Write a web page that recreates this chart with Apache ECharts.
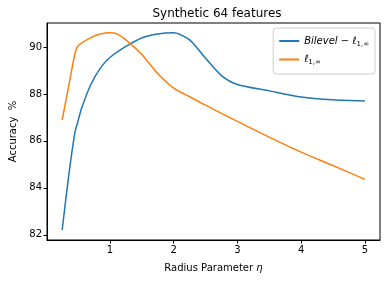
<!DOCTYPE html>
<html><head><meta charset="utf-8">
<script src="https://cdn.jsdelivr.net/npm/echarts@6/dist/echarts.min.js"></script>
<style>html,body{margin:0;padding:0;background:#fff}#c{width:386px;height:282px}</style>
</head><body><div id="c"></div>
<script>
const etaBilevel = [0.25, 0.35, 0.45, 0.5, 0.55, 0.7, 0.85, 1, 1.25, 1.5, 1.75, 2, 2.25, 2.5, 2.75, 3, 3.5, 4, 4.5, 5];
const bilevel    = [82.2, 84.45, 86.35, 86.85, 87.35, 88.4, 89.1, 89.55, 90.02, 90.38, 90.55, 90.6, 90.3, 89.52, 88.78, 88.4, 88.13, 87.87, 87.75, 87.7];
const etaL1inf   = [0.25, 0.35, 0.45, 0.5, 0.7, 0.85, 1, 1.1, 1.25, 1.5, 1.75, 2, 2.25, 2.5, 3, 3.5, 4, 4.5, 5];
const l1inf      = [86.89, 88.3, 89.7, 90.05, 90.4, 90.55, 90.6, 90.57, 90.3, 89.68, 88.87, 88.25, 87.88, 87.52, 86.83, 86.16, 85.52, 84.95, 84.36];
const xTicks = [1, 2, 3, 4, 5];
const yTicks = [82, 84, 86, 88, 90];
const seriesNames = ['Bilevel', 'l1inf'];

const font = 'DejaVu Sans';
const chart = echarts.init(document.getElementById('c'), null, {renderer: 'canvas'});
const pair = (xs, ys) => xs.map((x, i) => [x, ys[i]]);
chart.setOption({
  animation: false,
  backgroundColor: '#fff',
  title: {text: 'Synthetic 64 features', left: 212, top: 3, textAlign: 'center',
    textStyle: {fontFamily: font, fontSize: 12, fontWeight: 'normal', color: '#000'}},
  grid: {left: 45, right: 6, top: 23, bottom: 42, show: true, borderColor: '#000', borderWidth: 1},
  legend: {
    right: 11, top: 28, orient: 'vertical', itemWidth: 20, itemHeight: 2, itemGap: 7,
    padding: [8, 6, 8, 6], borderColor: '#ccc', borderWidth: 1, borderRadius: 3,
    backgroundColor: 'rgba(255,255,255,0.8)',
    icon: 'rect',
    data: seriesNames,
    formatter: n => n === 'Bilevel' ? '{i|Bilevel}{n| − ℓ}{s|1,∞}' : '{n|ℓ}{s|1,∞}',
    textStyle: {fontFamily: font, fontSize: 10, color: '#000',
      rich: {i: {fontFamily: font, fontStyle: 'italic', fontSize: 10},
             n: {fontFamily: font, fontStyle: 'italic', fontSize: 10},
             s: {fontFamily: font, fontSize: 7, padding: [6, 0, 0, 0]}}}
  },
  xAxis: {type: 'value', min: 0.0125, max: 5.2375,
    name: 'Radius Parameter {i|η}', nameLocation: 'middle', nameGap: 23,
    nameTextStyle: {fontFamily: font, fontSize: 10, color: '#000',
      rich: {i: {fontFamily: font, fontStyle: 'italic', fontSize: 10}}},
    axisLine: {show: true, lineStyle: {color: '#000'}},
    axisTick: {show: true, length: 3.5, customValues: xTicks, lineStyle: {color: '#000'}},
    axisLabel: {customValues: xTicks, fontFamily: font, fontSize: 10, color: '#000', margin: 5},
    splitLine: {show: false}},
  yAxis: {type: 'value', min: 81.78, max: 91.02,
    name: 'Accuracy  %', nameLocation: 'middle', nameGap: 29, nameRotate: 90,
    nameTextStyle: {fontFamily: font, fontSize: 10, color: '#000'},
    axisLine: {show: true, lineStyle: {color: '#000'}},
    axisTick: {show: true, length: 3.5, customValues: yTicks, lineStyle: {color: '#000'}},
    axisLabel: {customValues: yTicks, fontFamily: font, fontSize: 10, color: '#000', margin: 5},
    splitLine: {show: false}},
  series: [
    {name: 'Bilevel', type: 'line', data: pair(etaBilevel, bilevel), showSymbol: false,
     smooth: 0.25, color: '#1f77b4', lineStyle: {width: 1.5}},
    {name: 'l1inf', type: 'line', data: pair(etaL1inf, l1inf), showSymbol: false,
     smooth: 0.25, color: '#ff7f0e', lineStyle: {width: 1.5}}
  ]
});
</script></body></html>
